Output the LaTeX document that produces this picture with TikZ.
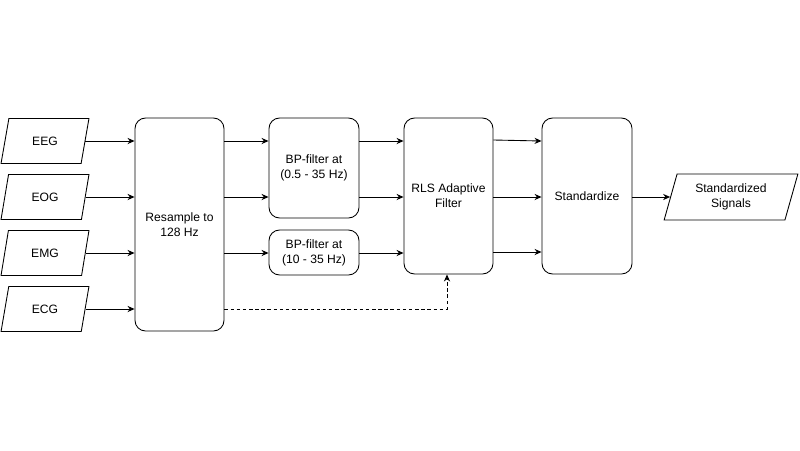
\documentclass[tikz,border=0pt]{standalone}
\usepackage{fontspec}
\setmainfont{Liberation Sans}
\usetikzlibrary{shapes.geometric,arrows.meta}
\begin{document}
\begin{tikzpicture}[x=0.02cm,y=-0.02cm,
  font=\fontsize{6.9}{8.6}\selectfont, line width=0.5pt,
  blk/.style={draw,rounded corners=6pt,align=center,inner sep=0pt},
  io/.style={draw,trapezium,trapezium left angle=72,trapezium right angle=108,trapezium stretches=true,align=center,inner sep=0pt},
  sz/.style 2 args={minimum width={#1*0.02cm},minimum height={#2*0.02cm}},
  arr/.style={-{Stealth[length=4pt,width=3.5pt]}}]
\useasboundingbox (0,0) rectangle (800,450);
\fill[white] (0,0) rectangle (800,450);
\node[io,sz={88}{45}] (eeg) at (45,141) {EEG};
\node[io,sz={88}{45}] (eog) at (45,197) {EOG};
\node[io,sz={88}{45}] (emg) at (45,253) {EMG};
\node[io,sz={88}{45}] (ecg) at (45,309) {ECG};
\node[blk,sz={89}{213}] (rs) at (179.5,224.5) {Resample to\\128 Hz};
\node[blk,sz={90}{100}] (bp1) at (314,168) {BP-filter at\\(0.5 - 35 Hz)};
\node[blk,sz={90}{45}] (bp2) at (314,252.5) {BP-filter at\\(10 - 35 Hz)};
\node[blk,sz={89}{156}] (rls) at (448.5,196) {RLS Adaptive\\Filter};
\node[blk,sz={90}{156}] (st) at (587,196) {Standardize};
\node[io,sz={134}{46}] (out) at (731,197) {Standardized\\Signals};
\foreach \n/\y in {eeg/141,eog/197,emg/253,ecg/309}
  \draw[arr] (\n.east|-0,\y) -- (rs.west|-0,\y);
\draw[arr] (rs.east|-0,141) -- (bp1.west|-0,141);
\draw[arr] (rs.east|-0,197) -- (bp1.west|-0,197);
\draw[arr] (rs.east|-0,253) -- (bp2.west|-0,253);
\draw[arr,dash pattern=on 2pt off 1.5pt] (rs.east|-0,309) -- (447,309) coordinate(c) -- (c|-rls.south);
\draw[arr] (bp1.east|-0,141) -- (rls.west|-0,141);
\draw[arr] (bp1.east|-0,197) -- (rls.west|-0,197);
\draw[arr] (bp2.east|-0,253) -- (rls.west|-0,253);
\draw[arr] (rls.east|-0,140) -- (st.west|-0,141);
\draw[arr] (rls.east|-0,197) -- (st.west|-0,197);
\draw[arr] (rls.east|-0,252) -- (st.west|-0,252);
\draw[arr] (st.east|-0,197) -- (out.west|-0,197);
\end{tikzpicture}
\end{document}
